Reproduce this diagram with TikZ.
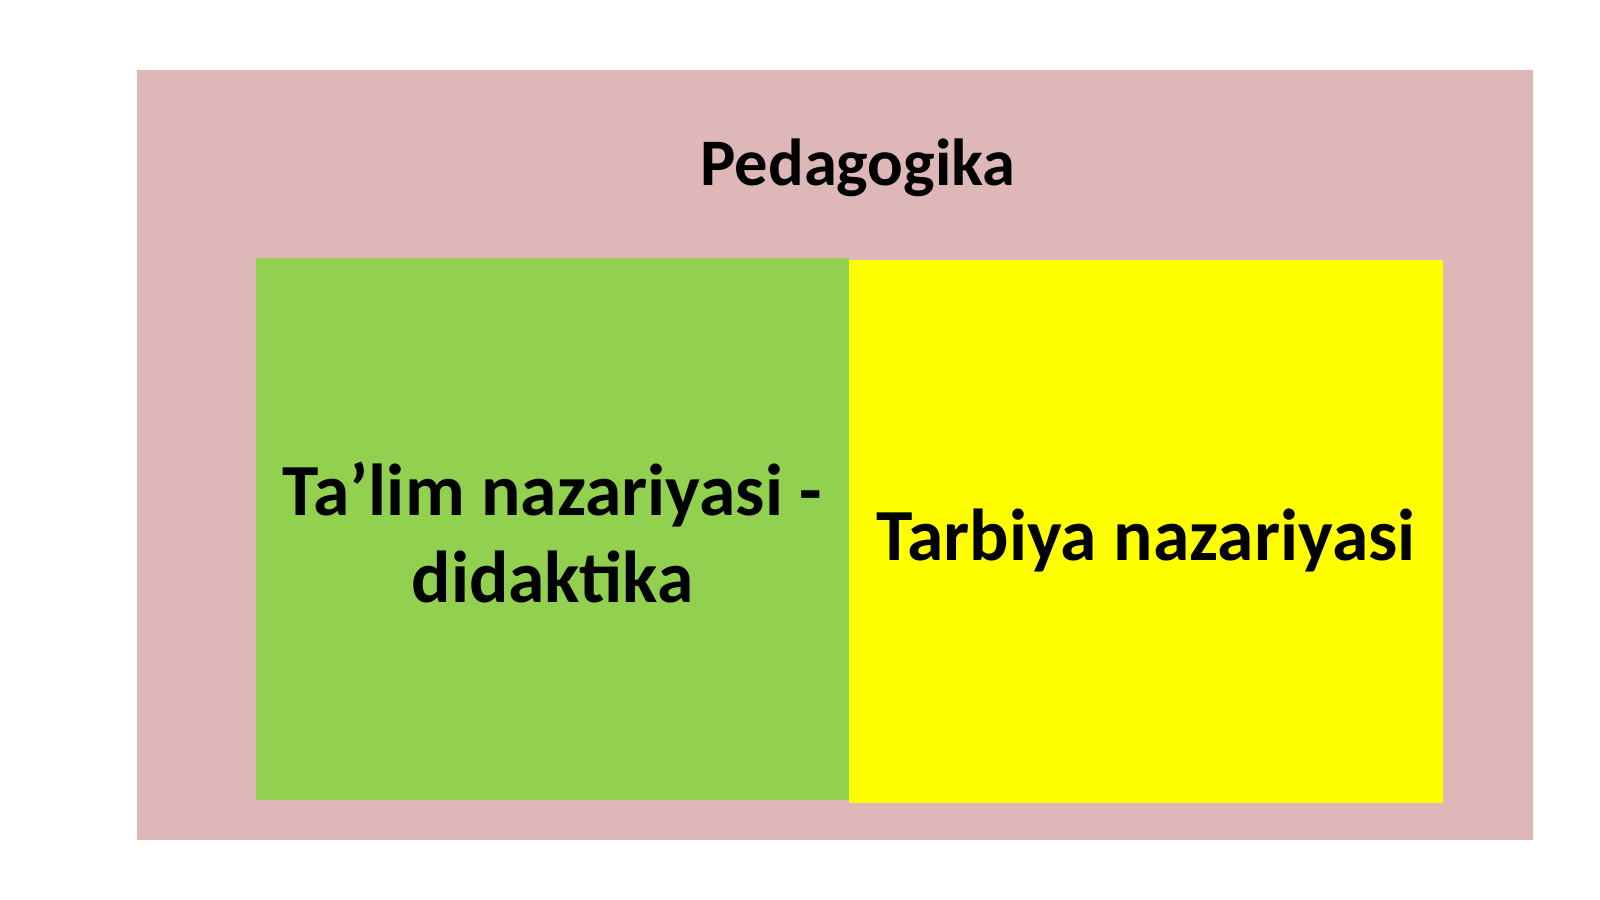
\documentclass[tikz,border=0pt]{standalone}
\usepackage{fontspec}
\setmainfont{Carlito}
\definecolor{pinkbg}{RGB}{222,184,184}
\definecolor{greenbg}{RGB}{146,208,80}
\definecolor{yellowbg}{RGB}{255,255,0}
\tikzset{
  panel/.style={inner sep=0pt, outer sep=0pt, draw=none},
  lbl/.style={inner sep=0pt, outer sep=0pt, text=black, font=\bfseries\fontsize{73.5}{87}\selectfont, align=center},
}
\begin{document}
\begin{tikzpicture}[x=1pt,y=-1pt]
\useasboundingbox (0,0) rectangle (1600,899);
\fill[white] (0,0) rectangle (1600,899);
\node[panel, fill=pinkbg, minimum width=1396pt, minimum height=770pt] (outer) at (835,455) {};
\node[panel, fill=greenbg, minimum width=593pt, minimum height=542pt] (green) at (552.5,529) {};
\node[panel, fill=yellowbg, minimum width=594pt, minimum height=543pt] (yellow) at (1146,531.5) {};
\node[lbl, font=\bfseries\fontsize{66.5}{78}\selectfont, anchor=base] (title) at (858,185) {Pedagogika};
\node[lbl] (talim) at (552.5,533) {Ta’lim nazariyasi -\\didaktika};
\node[lbl, anchor=base] (tarbiya) at (1146,560) {Tarbiya nazariyasi};
\end{tikzpicture}
\end{document}
